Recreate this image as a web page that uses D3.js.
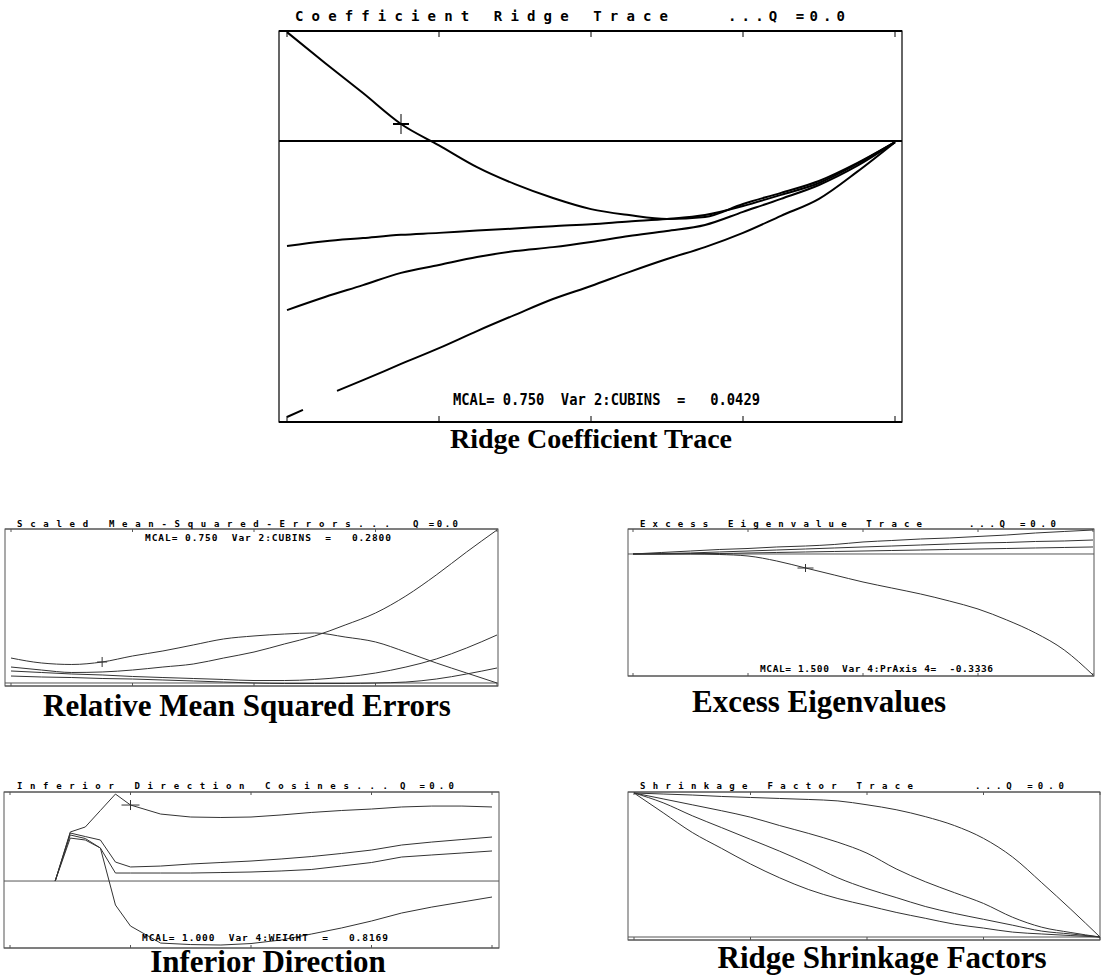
<!DOCTYPE html>
<html>
<head>
<meta charset="utf-8">
<script src="https://cdn.jsdelivr.net/npm/d3@7"></script>
<style>
  body { margin: 0; background: #fff; }
  svg { display: block; }
  text { white-space: pre; }
</style>
</head>
<body>
<svg id="chart" width="1102" height="978"></svg>
<script>
// MCAL grids (x values)
const mcalQuarter = [0, 0.25, 0.5, 0.75, 1, 1.25, 1.5, 1.75, 2, 2.25, 2.5, 2.75, 3, 3.25, 3.5, 3.75, 4];
const mcalEighth = [0, 0.125, 0.25, 0.375, 0.5, 0.625, 0.75, 0.875, 1, 1.25, 1.5, 1.75, 2, 2.25, 2.5, 2.75, 3, 3.25, 3.5, 3.75, 4];
const mcalCoefD = [0, 0.105, 0.2, 0.329, 0.5, 0.75, 1, 1.25, 1.5, 1.75, 2, 2.25, 2.5, 2.75, 3, 3.25, 3.5, 3.75, 4];
const mcalTicks = [0, 1, 2, 3, 4];

// ridge coefficient trace
const coefCubins = [0.275, 0.197, 0.121, 0.043, -0.011, -0.066, -0.109, -0.144, -0.172, -0.187, -0.197, -0.192, -0.159, -0.131, -0.101, -0.056, -0.003];
const coefB = [-0.265, -0.253, -0.245, -0.237, -0.232, -0.226, -0.221, -0.215, -0.210, -0.203, -0.197, -0.187, -0.164, -0.136, -0.106, -0.058, -0.003];
const coefC = [-0.427, -0.394, -0.364, -0.333, -0.313, -0.293, -0.278, -0.268, -0.255, -0.240, -0.227, -0.212, -0.179, -0.146, -0.111, -0.063, -0.003];
const coefD = [-0.697, -0.679, null, -0.631, -0.604, -0.563, -0.523, -0.480, -0.439, -0.399, -0.366, -0.331, -0.298, -0.268, -0.232, -0.189, -0.146, -0.078, -0.003];

// scaled mean squared errors
const mseA = [0.333, 0.267, 0.247, 0.28, 0.36, 0.427, 0.507, 0.587, 0.627, 0.653, 0.667, 0.613, 0.547, 0.413, 0.267, 0.133, 0];
const mseB = [0.213, 0.173, 0.14, 0.147, 0.173, 0.213, 0.253, 0.333, 0.413, 0.52, 0.627, 0.773, 0.933, 1.16, 1.44, 1.747, 2.04];
const mseC = [0.16, 0.14, 0.12, 0.107, 0.087, 0.073, 0.06, 0.047, 0.033, 0.033, 0.047, 0.08, 0.133, 0.213, 0.32, 0.467, 0.64];
const mseD = [0.093, 0.08, 0.073, 0.06, 0.053, 0.04, 0.027, 0.013, 0, -0.007, -0.007, -0.007, 0, 0.013, 0.053, 0.12, 0.2];

// excess eigenvalues
const eigA = [0, 0.036, 0.071, 0.107, 0.131, 0.167, 0.19, 0.226, 0.286, 0.321, 0.357, 0.381, 0.417, 0.452, 0.5, 0.536, 0.571];
const eigB = [0, 0.012, 0.024, 0.048, 0.071, 0.095, 0.119, 0.143, 0.167, 0.19, 0.214, 0.238, 0.262, 0.274, 0.298, 0.31, 0.333];
const eigC = [0, 0, 0.012, 0.012, 0.024, 0.036, 0.048, 0.06, 0.071, 0.083, 0.095, 0.107, 0.119, 0.131, 0.143, 0.155, 0.167];
const eigPrAxis4 = [0, 0, 0, -0.012, -0.048, -0.167, -0.333, -0.5, -0.667, -0.81, -0.952, -1.119, -1.31, -1.571, -1.881, -2.286, -2.881];

// inferior direction cosines
const cosWeight = [null, null, null, 0, 0.527, 0.581, 0.758, 0.935, 0.817, 0.72, 0.688, 0.683, 0.688, 0.71, 0.737, 0.758, 0.774, 0.796, 0.806, 0.806, 0.796];
const cosB = [null, null, null, 0, 0.516, 0.478, 0.441, 0.204, 0.151, 0.161, 0.183, 0.199, 0.215, 0.237, 0.263, 0.296, 0.333, 0.387, 0.419, 0.446, 0.473];
const cosC = [null, null, null, 0, 0.495, 0.457, 0.355, 0.086, 0.086, 0.086, 0.086, 0.091, 0.097, 0.108, 0.124, 0.161, 0.199, 0.258, 0.280, 0.301, 0.323];
const cosD = [null, null, null, 0, 0.462, 0.441, 0.355, -0.258, -0.484, -0.667, -0.683, -0.688, -0.672, -0.634, -0.570, -0.505, -0.430, -0.344, -0.280, -0.226, -0.172];

// shrinkage factors
const shrA = [1, 0.993, 0.986, 0.976, 0.969, 0.962, 0.955, 0.945, 0.918, 0.884, 0.836, 0.774, 0.685, 0.555, 0.377, 0.192, 0];
const shrB = [1, 0.959, 0.918, 0.877, 0.832, 0.774, 0.719, 0.658, 0.582, 0.473, 0.384, 0.308, 0.233, 0.137, 0.068, 0.031, 0];
const shrC = [1, 0.932, 0.842, 0.760, 0.678, 0.596, 0.507, 0.411, 0.336, 0.274, 0.212, 0.164, 0.123, 0.082, 0.041, 0.021, 0];
const shrD = [1, 0.863, 0.726, 0.616, 0.507, 0.411, 0.329, 0.267, 0.219, 0.171, 0.130, 0.089, 0.062, 0.034, 0.021, 0.010, 0];

const svg = d3.select('#chart');
svg.append('rect').attr('width', 1102).attr('height', 978).attr('fill', '#fff');

const mono = 'DejaVu Sans Mono, monospace';
const serif = 'Liberation Serif, Times New Roman, serif';

function fitText(g, str, x0, x1, base, size, adjust) {
  g.append('text')
    .attr('x', x0)
    .attr('y', base)
    .attr('font-family', mono)
    .attr('font-weight', 'bold')
    .attr('font-size', size)
    .attr('textLength', x1 - x0)
    .attr('lengthAdjust', adjust)
    .attr('fill', '#000')
    .text(str);
}

function drawPanel(p) {
  const g = svg.append('g');
  const x = d3.scaleLinear().domain([0, 4]).range(p.xRange);
  const y = d3.scaleLinear().domain(p.yDomain).range(p.yRange);
  const [fx0, fy0, fx1, fy1] = p.frame;

  g.append('rect')
    .attr('x', fx0)
    .attr('y', fy0)
    .attr('width', fx1 - fx0)
    .attr('height', fy1 - fy0)
    .attr('fill', 'none')
    .attr('stroke', p.frameColor)
    .attr('stroke-width', p.frameWidth);
  // heavier top and bottom edges
  [fy0, fy1].forEach(yy => {
    g.append('line')
      .attr('x1', fx0).attr('x2', fx1)
      .attr('y1', yy).attr('y2', yy)
      .attr('stroke', p.frameColor)
      .attr('stroke-width', p.edgeWidth);
  });

  mcalTicks.forEach(t => {
    g.append('line')
      .attr('x1', x(t)).attr('x2', x(t))
      .attr('y1', fy0).attr('y2', fy0 + p.tick)
      .attr('stroke', p.frameColor).attr('stroke-width', 1);
    g.append('line')
      .attr('x1', x(t)).attr('x2', x(t))
      .attr('y1', fy1).attr('y2', fy1 - p.tick)
      .attr('stroke', p.frameColor).attr('stroke-width', 1);
  });

  if (p.zeroLine) {
    g.append('line')
      .attr('x1', fx0).attr('x2', fx1)
      .attr('y1', y(0)).attr('y2', y(0))
      .attr('stroke', p.frameColor)
      .attr('stroke-width', p.zeroWidth);
  }

  p.series.forEach(s => {
    const pts = s.values.map((v, i) => [s.mcal[i], v]);
    const line = d3.line()
      .defined(d => d[1] !== null)
      .x(d => x(d[0]))
      .y(d => y(d[1]))
      .curve(p.curve);
    g.append('path')
      .attr('d', line(pts))
      .attr('fill', 'none')
      .attr('stroke', p.lineColor)
      .attr('stroke-width', p.lineWidth)
      .attr('stroke-linejoin', 'round');
  });

  const m = p.marker;
  if (m) {
    const mx = x(m.mcal), my = y(m.value);
    g.append('line')
      .attr('x1', mx - m.w).attr('x2', mx + m.w)
      .attr('y1', my).attr('y2', my)
      .attr('stroke', p.lineColor).attr('stroke-width', m.hw);
    g.append('line')
      .attr('x1', mx).attr('x2', mx)
      .attr('y1', my - m.h).attr('y2', my + m.h)
      .attr('stroke', p.lineColor).attr('stroke-width', 1);
  }

  p.title.forEach(t => fitText(g, t[0], t[1], t[2], p.titleBase, p.titleSize, 'spacing'));
  if (p.info) {
    fitText(g, p.info[0], p.info[1], p.info[2], p.infoBase, p.infoSize, p.infoAdjust);
  }

  g.append('text')
    .attr('x', p.caption[1])
    .attr('y', p.caption[2])
    .attr('text-anchor', 'middle')
    .attr('font-family', serif)
    .attr('font-weight', 'bold')
    .attr('font-size', p.captionSize)
    .attr('fill', '#000')
    .text(p.caption[0]);
}

drawPanel({
  frame: [279, 31, 902, 422],
  xRange: [287, 895],
  yDomain: [-0.7096, 0.2778],
  yRange: [422, 31],
  frameColor: '#000', frameWidth: 1.2, edgeWidth: 2, tick: 6,
  zeroLine: true, zeroWidth: 2,
  lineColor: '#000', lineWidth: 2, curve: d3.curveMonotoneX,
  series: [
    { mcal: mcalQuarter, values: coefCubins },
    { mcal: mcalQuarter, values: coefB },
    { mcal: mcalQuarter, values: coefC },
    { mcal: mcalCoefD, values: coefD },
  ],
  marker: { mcal: 0.75, value: 0.0429, w: 8, h: 10, hw: 2 },
  title: [['Coefficient Ridge Trace', 295, 668], ['...Q =0.0', 728, 845]],
  titleBase: 21, titleSize: 14,
  info: ['MCAL= 0.750  Var 2:CUBINS  =   0.0429', 453, 760],
  infoBase: 405, infoSize: 16, infoAdjust: 'spacingAndGlyphs',
  caption: ['Ridge Coefficient Trace', 591, 448],
  captionSize: 28,
});

drawPanel({
  frame: [5, 529, 498, 686],
  xRange: [11, 497],
  yDomain: [-0.04, 2.053],
  yRange: [686, 529],
  frameColor: '#555', frameWidth: 1, edgeWidth: 1, tick: 3,
  zeroLine: true, zeroWidth: 1,
  lineColor: '#333', lineWidth: 1, curve: d3.curveMonotoneX,
  series: [
    { mcal: mcalQuarter, values: mseA },
    { mcal: mcalQuarter, values: mseB },
    { mcal: mcalQuarter, values: mseC },
    { mcal: mcalQuarter, values: mseD },
  ],
  marker: { mcal: 0.75, value: 0.28, w: 5, h: 5, hw: 1 },
  title: [['Scaled Mean-Squared-Errors...', 17, 390], ['Q =0.0', 413, 458]],
  titleBase: 527, titleSize: 9,
  info: ['MCAL= 0.750  Var 2:CUBINS  =   0.2800', 145, 391],
  infoBase: 541, infoSize: 9.5, infoAdjust: 'spacing',
  caption: ['Relative Mean Squared Errors', 247, 716],
  captionSize: 31,
});

drawPanel({
  frame: [628, 529, 1094, 676],
  xRange: [633, 1093],
  yDomain: [-2.905, 0.595],
  yRange: [676, 529],
  frameColor: '#555', frameWidth: 1, edgeWidth: 1, tick: 3,
  zeroLine: true, zeroWidth: 1,
  lineColor: '#333', lineWidth: 1, curve: d3.curveMonotoneX,
  series: [
    { mcal: mcalQuarter, values: eigA },
    { mcal: mcalQuarter, values: eigB },
    { mcal: mcalQuarter, values: eigC },
    { mcal: mcalQuarter, values: eigPrAxis4 },
  ],
  marker: { mcal: 1.5, value: -0.3336, w: 8, h: 4, hw: 1 },
  title: [['Excess Eigenvalue Trace', 640, 922], ['...Q =0.0', 969, 1056]],
  titleBase: 527, titleSize: 9,
  info: ['MCAL= 1.500  Var 4:PrAxis 4=  -0.3336', 760, 993],
  infoBase: 672, infoSize: 9.5, infoAdjust: 'spacing',
  caption: ['Excess Eigenvalues', 819, 712],
  captionSize: 31,
});

drawPanel({
  frame: [4, 792, 499, 948],
  xRange: [10, 492],
  yDomain: [-0.72, 0.957],
  yRange: [948, 792],
  frameColor: '#555', frameWidth: 1, edgeWidth: 1, tick: 3,
  zeroLine: true, zeroWidth: 1,
  lineColor: '#333', lineWidth: 1, curve: d3.curveLinear,
  series: [
    { mcal: mcalEighth, values: cosWeight },
    { mcal: mcalEighth, values: cosB },
    { mcal: mcalEighth, values: cosC },
    { mcal: mcalEighth, values: cosD },
  ],
  marker: { mcal: 1.0, value: 0.8169, w: 9, h: 5, hw: 1 },
  title: [['Inferior Direction Cosines...', 17, 388], ['Q =0.0', 400, 454]],
  titleBase: 789, titleSize: 9,
  info: ['MCAL= 1.000  Var 4:WEIGHT  =   0.8169', 142, 388],
  infoBase: 941, infoSize: 9.5, infoAdjust: 'spacing',
  caption: ['Inferior Direction', 268, 972],
  captionSize: 31,
});

drawPanel({
  frame: [628, 792, 1100, 940],
  xRange: [634, 1100],
  yDomain: [0, 1],
  yRange: [937, 793],
  frameColor: '#555', frameWidth: 1, edgeWidth: 1, tick: 3,
  zeroLine: true, zeroWidth: 1,
  lineColor: '#333', lineWidth: 1, curve: d3.curveMonotoneX,
  series: [
    { mcal: mcalQuarter, values: shrA },
    { mcal: mcalQuarter, values: shrB },
    { mcal: mcalQuarter, values: shrC },
    { mcal: mcalQuarter, values: shrD },
  ],
  marker: null,
  title: [['Shrinkage Factor Trace', 640, 913], ['...Q =0.0', 975, 1064]],
  titleBase: 789, titleSize: 9,
  info: null,
  caption: ['Ridge Shrinkage Factors', 882, 968],
  captionSize: 31,
});
</script>
</body>
</html>
